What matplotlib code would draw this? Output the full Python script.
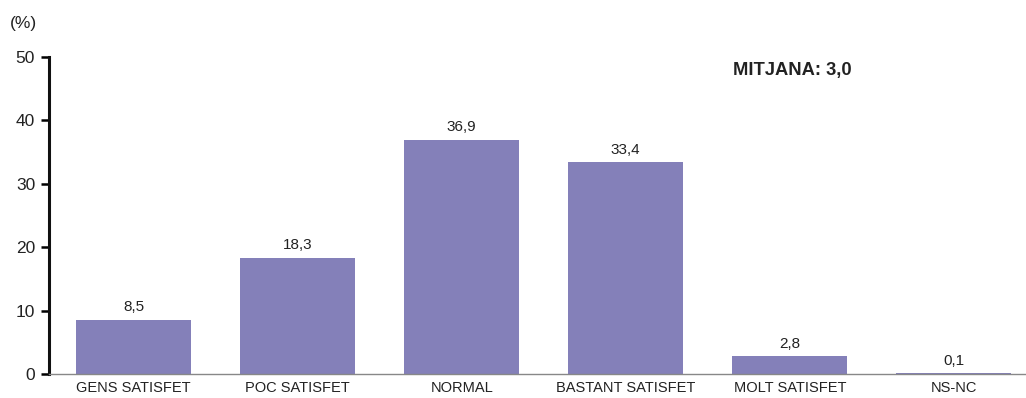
import matplotlib.pyplot as plt

plt.rcParams['font.family'] = ['Liberation Sans', 'DejaVu Sans']

categories = ['GENS SATISFET', 'POC SATISFET', 'NORMAL', 'BASTANT SATISFET',
              'MOLT SATISFET', 'NS-NC']
values = [8.5, 18.3, 36.9, 33.4, 2.8, 0.1]
labels = ['8,5', '18,3', '36,9', '33,4', '2,8', '0,1']

fig = plt.figure(figsize=(10.26, 3.98), dpi=100)
ax = fig.add_axes([0.0478, 0.0603, 0.9522, 0.7965])

x = range(len(categories))
bars = ax.bar(x, values, width=0.70, color='#8480b9', zorder=2)
for b, lab in zip(bars, labels):
    ax.text(b.get_x() + b.get_width() / 2, b.get_height() + 0.9, lab,
            ha='center', va='bottom', fontsize=11, color='#222222')

ax.set_xlim(-0.515, 5.44)
ax.set_ylim(0, 50)
ax.set_yticks([0, 10, 20, 30, 40, 50])
ax.set_xticks(list(x))
ax.set_xticklabels(categories, fontsize=10.5, color='#222222')
ax.tick_params(axis='x', length=0, pad=5)
ax.tick_params(axis='y', length=6, width=1.8, labelsize=12.5, pad=4,
               labelcolor='#222222')

ax.spines['top'].set_visible(False)
ax.spines['right'].set_visible(False)
ax.spines['left'].set_linewidth(2.2)
ax.spines['left'].set_color('#111111')
ax.spines['bottom'].set_linewidth(1.0)
ax.spines['bottom'].set_color('#888888')

fig.text(0.0098, 0.94, '(%)', fontsize=12.5, color='#222222', va='center')
fig.text(0.714, 0.823, 'MITJANA: 3,0', fontsize=13.2, fontweight='bold',
         color='#222222', va='center')

fig.savefig('out.png', dpi=100)
